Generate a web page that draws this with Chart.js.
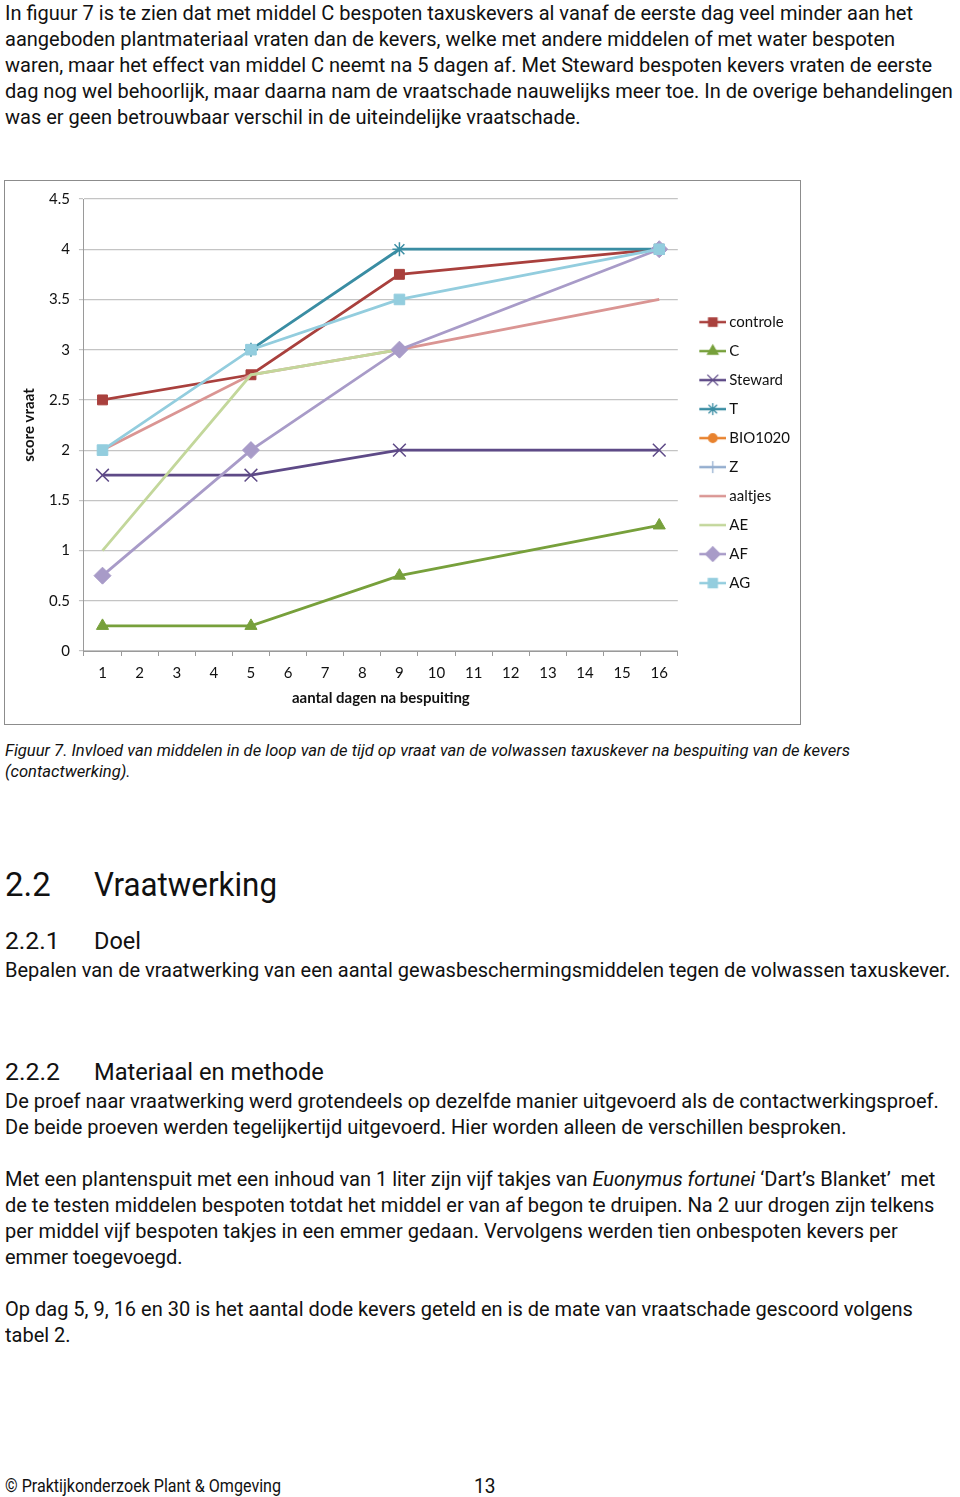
<!DOCTYPE html>
<html>
<head>
<meta charset="utf-8">
<script src="https://cdn.jsdelivr.net/npm/chart.js@4"></script>
<style>
  html, body { margin: 0; padding: 0; background: #fff; }
  body { width: 960px; height: 1497px; position: relative; overflow: hidden;
         font-family: Roboto, "Liberation Sans", sans-serif; color: #111; }
  .blk { position: absolute; left: 5px; white-space: nowrap; font-size: 21px; line-height: 26px;
         transform-origin: 0 0; }
  .hd { position: absolute; left: 5px; white-space: nowrap; }
  .hd .num { display: inline-block; width: 89px; }
  .hd .txt { display: inline-block; transform-origin: 0 50%; }
  .cap { font-style: italic; font-size: 17px; line-height: 21px; }
  #chartBox { position: absolute; left: 4px; top: 180px; width: 795px; height: 543px;
              border: 1px solid #8c8c8c; background: #fff; }
</style>
</head>
<body>
<div class="blk body" style="top:0px"><span id="l1">In figuur 7 is te zien dat met middel C bespoten taxuskevers al vanaf de eerste dag veel minder aan het</span><br>aangeboden plantmateriaal vraten dan de kevers, welke met andere middelen of met water bespoten<br>waren, maar het effect van middel C neemt na 5 dagen af. Met Steward bespoten kevers vraten de eerste<br>dag nog wel behoorlijk, maar daarna nam de vraatschade nauwelijks meer toe. In de overige behandelingen<br>was er geen betrouwbaar verschil in de uiteindelijke vraatschade.</div>

<div id="chartBox"><canvas id="chart"></canvas></div>

<div class="blk cap" style="top:740px"><span id="c1">Figuur 7. Invloed van middelen in de loop van de tijd op vraat van de volwassen taxuskever na bespuiting van de kevers</span><br>(contactwerking).</div>

<div class="hd" style="top:865px; height:40px; line-height:40px"><span class="num">2.2</span><span class="txt" data-w="183">Vraatwerking</span></div>
<div class="hd" style="top:926px; height:30px; line-height:30px"><span class="num">2.2.1</span><span class="txt" data-w="47">Doel</span></div>
<div class="blk body" style="top:957px">Bepalen van de vraatwerking van een aantal gewasbeschermingsmiddelen tegen de volwassen taxuskever.</div>
<div class="hd" style="top:1057px; height:30px; line-height:30px"><span class="num">2.2.2</span><span class="txt" data-w="230">Materiaal en methode</span></div>
<div class="blk body" style="top:1088px">De proef naar vraatwerking werd grotendeels op dezelfde manier uitgevoerd als de contactwerkingsproef.<br>De beide proeven werden tegelijkertijd uitgevoerd. Hier worden alleen de verschillen besproken.</div>
<div class="blk body" style="top:1166px">Met een plantenspuit met een inhoud van 1 liter zijn vijf takjes van <i>Euonymus fortunei</i> ‘Dart’s Blanket’&nbsp; met<br>de te testen middelen bespoten totdat het middel er van af begon te druipen. Na 2 uur drogen zijn telkens<br>per middel vijf bespoten takjes in een emmer gedaan. Vervolgens werden tien onbespoten kevers per<br>emmer toegevoegd.</div>
<div class="blk body" style="top:1296px">Op dag 5, 9, 16 en 30 is het aantal dode kevers geteld en is de mate van vraatschade gescoord volgens<br>tabel 2.</div>

<div class="blk" id="foot" style="top:1475px; font-size:18px; line-height:22px">© Praktijkonderzoek Plant &amp; Omgeving</div>
<div class="blk body" style="top:1474px; left:474px; font-size:20px; line-height:24px">13</div>

<script>
// days after spraying (category axis)
const days = ["1","2","3","4","5","6","7","8","9","10","11","12","13","14","15","16"];

// series: only days 1, 5, 9 and 16 were scored, rest stays empty
const controle = [2.5, null, null, null, 2.75, null, null, null, 3.75, null, null, null, null, null, null, 4];
const middelC  = [0.25, null, null, null, 0.25, null, null, null, 0.75, null, null, null, null, null, null, 1.25];
const steward  = [1.75, null, null, null, 1.75, null, null, null, 2, null, null, null, null, null, null, 2];
const middelT  = [null, null, null, null, 3, null, null, null, 4, null, null, null, null, null, null, 4];
const bio1020  = [null, null, null, null, null, null, null, null, null, null, null, null, null, null, null, null];
const middelZ  = [null, null, null, null, null, null, null, null, null, null, null, null, null, null, null, null];
const aaltjes  = [2, null, null, null, 2.75, null, null, null, 3, null, null, null, null, null, null, 3.5];
const middelAE = [1, null, null, null, 2.75, null, null, null, 3, null, null, null, null, null, null, null];
const middelAF = [0.75, null, null, null, 2, null, null, null, 3, null, null, null, null, null, null, 4];
const middelAG = [2, null, null, null, 3, null, null, null, 3.5, null, null, null, null, null, null, 4];

const yTicks = [0, 0.5, 1, 1.5, 2, 2.5, 3, 3.5, 4, 4.5];

// page text is a narrow face; squeeze Roboto to the same line widths
function squeeze(el, target) {
  return target / el.getBoundingClientRect().width;
}
const k = squeeze(document.getElementById("l1"), 908);
document.querySelectorAll(".blk.body").forEach(el => { el.style.transform = `scaleX(${k})`; });
const kc = squeeze(document.getElementById("c1"), 845);
document.querySelector(".cap").style.transform = `scaleX(${kc})`;
const foot = document.getElementById("foot");
foot.style.transform = `scaleX(${squeeze(foot, 276)})`;
document.querySelectorAll(".hd .txt").forEach(el => {
  el.style.transform = `scaleX(${k})`;
  let fs = 30;
  el.parentNode.style.fontSize = fs + "px";
  const w = el.getBoundingClientRect().width;
  fs = fs * (+el.dataset.w) / w;
  el.parentNode.style.fontSize = fs.toFixed(2) + "px";
});

const chartFont = "Lato, 'Open Sans', sans-serif";

const series = [
  { label: "controle", data: controle, color: "#A9403D", point: "rect", r: 7 },
  { label: "C",        data: middelC,  color: "#77A03B", point: "triangle", r: 7 },
  { label: "Steward",  data: steward,  color: "#5E4A87", point: "crossRot", r: 9 },
  { label: "T",        data: middelT,  color: "#3A8DA3", point: "star", r: 7 },
  { label: "BIO1020",  data: bio1020,  color: "#E8822E", point: "circle", r: 5 },
  { label: "Z",        data: middelZ,  color: "#94AECF", point: "cross", r: 7 },
  { label: "aaltjes",  data: aaltjes,  color: "#DA9593", point: false, r: 0 },
  { label: "AE",       data: middelAE, color: "#C3D79B", point: false, r: 0 },
  { label: "AF",       data: middelAF, color: "#A89BC8", point: "rectRot", r: 8.5 },
  { label: "AG",       data: middelAG, color: "#93CDDE", point: "rect", r: 7.5 }
];

// legend sample: line with marker in the middle, like Excel (transparent left part)
const SW = 30, SI = 39;
function legendSample(s) {
  const c = document.createElement("canvas");
  c.width = SI; c.height = 16;
  const ctx = c.getContext("2d");
  const x0 = SI - 27;
  ctx.strokeStyle = s.color;
  ctx.lineWidth = 2.5;
  ctx.beginPath(); ctx.moveTo(x0, 8); ctx.lineTo(SI, 8); ctx.stroke();
  if (s.point) {
    ctx.fillStyle = s.color;
    ctx.lineWidth = 1.3;
    Chart.helpers.drawPoint(ctx, { pointStyle: s.point, radius: s.r * 0.85, borderWidth: 1.3, rotation: 0 }, x0 + 13.5, 8);
  }
  return c;
}

const datasets = series.map((s, i) => ({
  label: s.label,
  data: s.data,
  borderColor: s.color,
  backgroundColor: s.color,
  borderWidth: 2.8,
  pointStyle: s.point,
  pointRadius: s.r,
  pointHoverRadius: s.r,
  pointBorderWidth: (s.point === "crossRot" || s.point === "star" || s.point === "cross") ? 1.5 : 1,
  pointBorderColor: s.color,
  pointBackgroundColor: s.color,
  spanGaps: true,
  tension: 0,
  order: -i
}));

new Chart(document.getElementById("chart"), {
  type: "line",
  data: { labels: days, datasets },
  options: {
    responsive: true,
    maintainAspectRatio: false,
    animation: false,
    layout: { padding: { left: 15, right: 0, top: 10, bottom: 17 } },
    plugins: {
      tooltip: { enabled: false },
      legend: {
        position: "right",
        reverse: true,
        title: { display: true, text: " ", font: { size: 1 }, padding: { top: 3, bottom: 3 } },
        labels: {
          usePointStyle: true,
          pointStyleWidth: SW,
          padding: 14,
          color: "#111",
          font: { family: chartFont, size: 15 },
          generateLabels(chart) {
            const items = Chart.defaults.plugins.legend.labels.generateLabels(chart);
            items.forEach(it => {
              it.pointStyle = legendSample(series[it.datasetIndex]);
            });
            return items;
          }
        }
      }
    },
    scales: {
      x: {
        type: "category",
        offset: true,
        grid: { offset: true, drawOnChartArea: false, drawTicks: true, tickLength: 5, color: "#9a9a9a" },
        border: { color: "#9a9a9a" },
        ticks: { color: "#111", font: { family: chartFont, size: 15 }, padding: 8, maxRotation: 0, autoSkip: false },
        title: { display: true, text: "aantal dagen na bespuiting", color: "#111",
                 font: { family: chartFont, size: 15, weight: "bold" }, padding: { top: -1, bottom: 0 } }
      },
      y: {
        min: 0, max: 4.5,
        afterBuildTicks(axis) { axis.ticks = yTicks.map(v => ({ value: v })); },
        grid: { color: "#c4c4c4", lineWidth: 1.2, drawTicks: true, tickLength: 5 },
        border: { color: "#9a9a9a" },
        ticks: { color: "#111", font: { family: chartFont, size: 15 }, padding: 9,
                 callback: v => String(v) },
        title: { display: true, text: "score vraat", color: "#111",
                 font: { family: chartFont, size: 15, weight: "bold" }, padding: { top: 0, bottom: 2 } }
      }
    }
  }
});
</script>
</body>
</html>
